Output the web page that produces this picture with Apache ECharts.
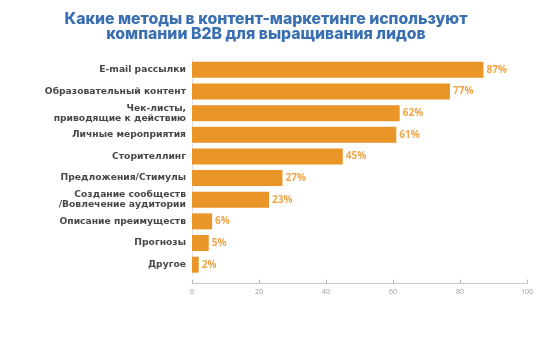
<!DOCTYPE html>
<html>
<head>
<meta charset="utf-8">
<script src="https://cdn.jsdelivr.net/npm/echarts@6/dist/echarts.min.js"></script>
<style>
  html, body { margin: 0; padding: 0; background: #fff; }
  #chart { width: 550px; height: 349px; }
</style>
</head>
<body>
<div id="chart"></div>
<script>
// Content-marketing methods used by B2B companies for lead nurturing (share, %)
const categories = [
  'E-mail рассылки',
  'Образовательный контент',
  'Чек-листы,\nприводящие к действию',
  'Личные мероприятия',
  'Сторителлинг',
  'Предложения/Стимулы',
  'Создание сообществ\n/Вовлечение аудитории',
  'Описание преимуществ',
  'Прогнозы',
  'Другое'
];
const shares = [87, 77, 62, 61, 45, 27, 23, 6, 5, 2];
const xTicks = [0, 20, 40, 60, 80, 100];

const chart = echarts.init(document.getElementById('chart'), null, { renderer: 'canvas' });

chart.setOption({
  animation: false,
  title: {
    text: 'Какие методы в контент-маркетинге используют\nкомпании B2B для выращивания лидов',
    left: 261,
    top: 7,
    textAlign: 'center',
    textStyle: {
      fontFamily: 'Inter',
      fontWeight: 800,
      fontSize: 15.8,
      lineHeight: 14.5,
      color: '#3a6fb2'
    }
  },
  grid: { left: 192, right: 23, top: 59, bottom: 73.5, containLabel: false },
  xAxis: {
    type: 'value',
    min: xTicks[0],
    max: xTicks[xTicks.length - 1],
    interval: 20,
    offset: 8,
    splitLine: { show: false },
    axisLine: { show: true, lineStyle: { color: '#c8c8c8', width: 1 } },
    axisTick: { show: true, inside: true, length: 4, lineStyle: { color: '#b8b8b8' } },
    axisLabel: {
      fontFamily: 'Open Sans',
      fontSize: 7,
      color: '#999',
      margin: 5
    }
  },
  yAxis: {
    type: 'category',
    inverse: true,
    data: categories,
    axisLine: { show: true, lineStyle: { color: '#e0e0e0' } },
    axisTick: { show: false },
    axisLabel: {
      fontFamily: 'DejaVu Sans',
      fontWeight: 'bold',
      fontSize: 9.2,
      lineHeight: 10,
      color: '#474747',
      margin: 6,
      align: 'right'
    }
  },
  series: [{
    type: 'bar',
    data: shares,
    barWidth: 16,
    itemStyle: { color: '#ea9528' },
    label: {
      show: true,
      position: 'right',
      distance: 3,
      formatter: '{c}%',
      fontFamily: 'Open Sans',
      fontWeight: 'bold',
      fontSize: 10,
      color: '#f0a446'
    }
  }]
});
</script>
</body>
</html>
